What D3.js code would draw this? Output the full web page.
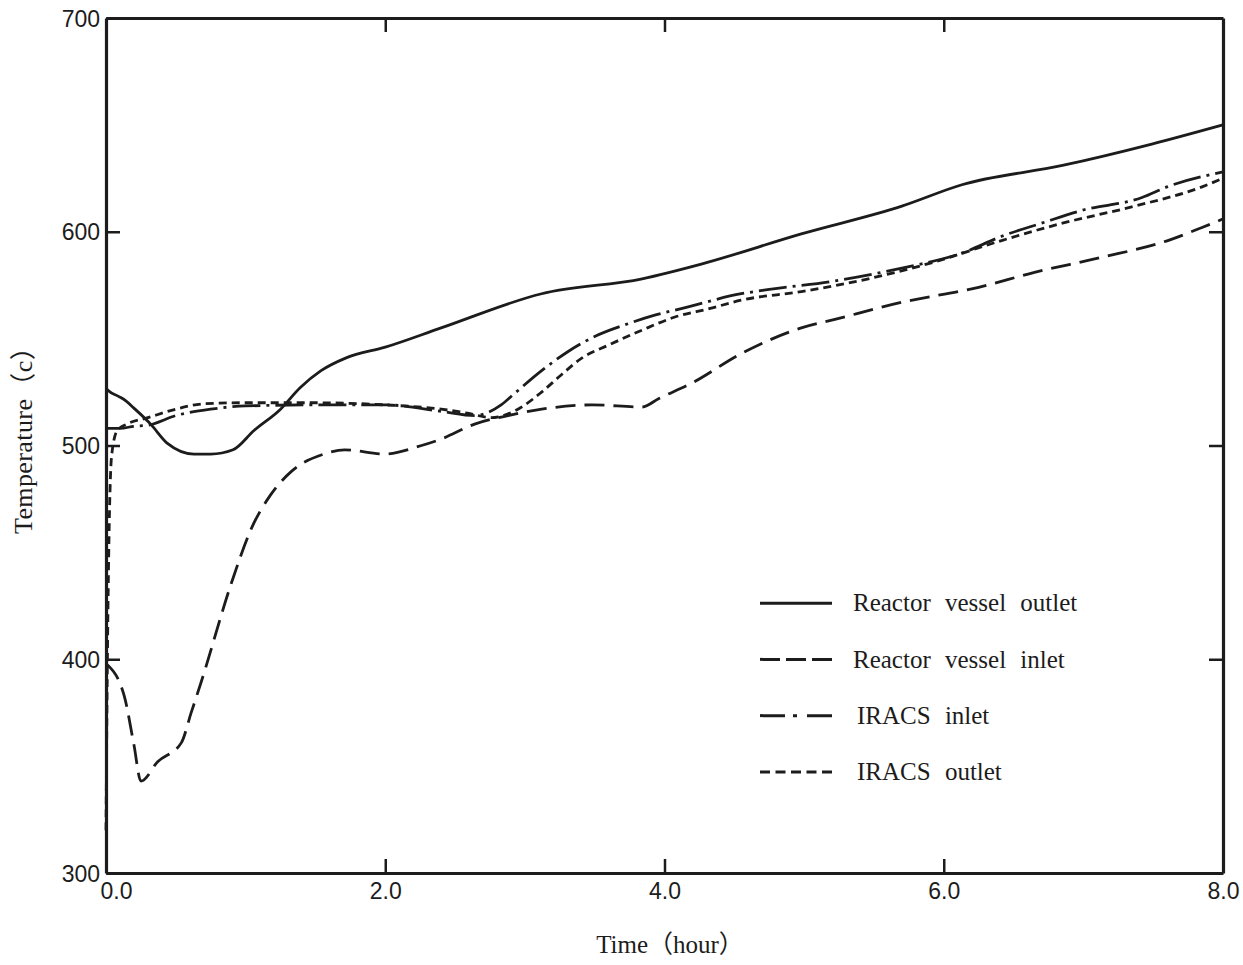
<!DOCTYPE html>
<html>
<head>
<meta charset="utf-8">
<script src="https://cdn.jsdelivr.net/npm/d3@7"></script>
<style>
  html, body { margin: 0; padding: 0; background: #fff; }
  svg { display: block; }
</style>
</head>
<body>
<svg id="chart" width="1243" height="965"></svg>
<script>
// ---- Data (time in hours, temperature in °C) ----
const xTicks = [0, 2, 4, 6, 8];
const xTickLabels = ["0.0", "2.0", "4.0", "6.0", "8.0"];
const yTicks = [300, 400, 500, 600, 700];
const yTickLabels = ["300", "400", "500", "600", "700"];

const seriesNames = ["Reactor vessel outlet", "Reactor vessel inlet", "IRACS inlet", "IRACS outlet"];

const rvOutletT = [0, 0.02, 0.09, 0.14, 0.2, 0.32, 0.44, 0.63, 0.75, 0.91, 1.06, 1.25, 1.39, 1.54, 1.72, 2.0, 2.4, 3.12, 3.84, 4.27, 4.98, 5.7, 6.13, 6.85, 7.49, 8.0];
const rvOutletV = [527, 525.5, 523, 521, 517.5, 510, 501, 496, 496, 498, 507, 517, 527, 535, 541, 546, 555, 571, 578, 585, 599, 612, 622, 631, 641, 650];

const rvInletT = [0, 0.13, 0.2, 0.25, 0.37, 0.54, 0.61, 0.68, 0.9, 1.04, 1.18, 1.33, 1.56, 1.71, 1.99, 2.26, 2.4, 2.64, 2.88, 3.12, 3.48, 3.84, 3.96, 4.19, 4.55, 4.98, 5.22, 5.7, 6.25, 6.65, 7.13, 7.61, 7.85, 8.0];
const rvInletV = [398, 383, 360, 343, 352, 361, 375, 389, 436, 461, 477, 488, 496, 498, 496, 500, 503, 510, 514, 517, 519, 518, 522, 529, 543, 555, 559, 567, 574, 581, 588, 596, 602, 606];

const iracsInletT = [0, 0.1, 0.2, 0.3, 0.5, 0.75, 1.0, 1.5, 2.0, 2.4, 2.64, 2.83, 2.92, 3.12, 3.31, 3.5, 3.74, 3.93, 4.12, 4.55, 4.75, 5.22, 5.7, 6.13, 6.42, 6.7, 6.99, 7.42, 7.6, 8.0];
const iracsInletV = [508, 508, 509, 509.5, 514, 517, 518.5, 519, 519, 516, 514, 519, 524, 535, 544, 551, 557, 561, 564, 571, 573, 577, 583, 590, 598, 604, 610, 616, 621, 628];

const iracsOutletT = [0, 0.01, 0.04, 0.08, 0.15, 0.3, 0.5, 0.7, 1.0, 1.5, 2.0, 2.4, 2.6, 2.76, 2.95, 3.12, 3.26, 3.41, 3.6, 3.84, 4.07, 4.32, 4.55, 4.98, 5.46, 5.94, 6.42, 6.85, 7.37, 7.85, 8.0];
const iracsOutletV = [320, 400, 495, 507, 510, 513, 517, 519.5, 520, 520, 519, 517, 515, 513, 517, 525, 533, 541, 547, 554, 560, 564, 568, 572, 578, 586, 596, 604, 612, 621, 625];

// ---- Layout ----
const margin = { left: 106, right: 1223, top: 18, bottom: 873 };
const ink = "#1c1c1c";

const svg = d3.select("#chart");
const x = d3.scaleLinear().domain([0, 8]).range([margin.left, margin.right]);
const y = d3.scaleLinear().domain([300, 700]).range([margin.bottom, margin.top]);

const series = [
  { name: seriesNames[0], t: rvOutletT, v: rvOutletV, dash: null, legendDash: null },
  { name: seriesNames[1], t: rvInletT, v: rvInletV, dash: "20,9", legendDash: "20,6" },
  { name: seriesNames[2], t: iracsInletT, v: iracsInletV, dash: "28,6,3,6", legendDash: "25,8,4,10" },
  { name: seriesNames[3], t: iracsOutletT, v: iracsOutletV, dash: "8,5", legendDash: "10,5.5" }
];

// ---- Data lines ----
const line = d3.line().x(d => x(d[0])).y(d => y(d[1])).curve(d3.curveMonotoneX);
const plotG = svg.append("g");
series.forEach(s => {
  const pts = s.t.map((t, i) => [t, s.v[i]]);
  plotG.append("path")
    .datum(pts)
    .attr("d", line)
    .attr("fill", "none")
    .attr("stroke", ink)
    .attr("stroke-width", 2.8)
    .attr("stroke-linejoin", "round")
    .attr("stroke-dasharray", s.dash);
});

// ---- Axes (inward ticks on all four sides) ----
const tickLen = 14;
const fmtX = d => xTickLabels[xTicks.indexOf(d)];
const fmtY = d => yTickLabels[yTicks.indexOf(d)];

const axBottom = svg.append("g").attr("transform", `translate(0,${margin.bottom})`)
  .call(d3.axisBottom(x).tickValues(xTicks).tickFormat(fmtX).tickSizeInner(-tickLen).tickSizeOuter(0).tickPadding(10));
const axTop = svg.append("g").attr("transform", `translate(0,${margin.top})`)
  .call(d3.axisTop(x).tickValues(xTicks.slice(1, -1)).tickFormat("").tickSizeInner(-tickLen).tickSizeOuter(0));
const axLeft = svg.append("g").attr("transform", `translate(${margin.left},0)`)
  .call(d3.axisLeft(y).tickValues(yTicks).tickFormat(fmtY).tickSizeInner(-tickLen).tickSizeOuter(0).tickPadding(6));
const axRight = svg.append("g").attr("transform", `translate(${margin.right},0)`)
  .call(d3.axisRight(y).tickValues(yTicks.slice(1, -1)).tickFormat("").tickSizeInner(-tickLen).tickSizeOuter(0));

[axBottom, axTop, axLeft, axRight].forEach(a => {
  a.select(".domain").attr("stroke", ink).attr("stroke-width", 3.2);
  a.selectAll(".tick line").attr("stroke", ink).attr("stroke-width", 2.5);
  a.selectAll(".tick text")
    .attr("fill", ink)
    .style("font-family", "'Liberation Sans', Arial, sans-serif")
    .style("font-size", "23px");
});
axBottom.selectAll(".tick text").filter(d => d === 0).attr("dx", 10);
axLeft.selectAll(".tick text").attr("dy", "0.35em");

// ---- Axis titles ----
svg.append("text")
  .attr("x", 670).attr("y", 953)
  .attr("text-anchor", "middle")
  .attr("fill", ink)
  .style("font-family", "'Liberation Serif', 'Noto Sans CJK JP', serif")
  .style("font-size", "25px")
  .text("Time（hour）");

svg.append("text")
  .attr("transform", "translate(32,434) rotate(-90)")
  .attr("text-anchor", "middle")
  .attr("fill", ink)
  .style("font-family", "'Liberation Serif', 'Noto Sans CJK JP', serif")
  .style("font-size", "26px")
  .style("letter-spacing", "0.4px")
  .text("Temperature（c）");

// ---- Legend ----
const legendY = d3.scaleBand().domain(seriesNames).range([575, 800]);
const legend = svg.append("g");
series.forEach(s => {
  const cy = legendY(s.name) + legendY.bandwidth() / 2;
  legend.append("line")
    .attr("x1", 760).attr("x2", 832)
    .attr("y1", cy).attr("y2", cy)
    .attr("stroke", ink).attr("stroke-width", 3)
    .attr("stroke-dasharray", s.legendDash);
  legend.append("text")
    .attr("x", s.name.startsWith("IRACS") ? 857 : 853).attr("y", cy)
    .attr("dy", "0.33em")
    .attr("fill", ink)
    .style("font-family", "'Liberation Serif', 'Times New Roman', serif")
    .style("font-size", "25px")
    .style("word-spacing", "8px")
    .text(s.name);
});
</script>
</body>
</html>
